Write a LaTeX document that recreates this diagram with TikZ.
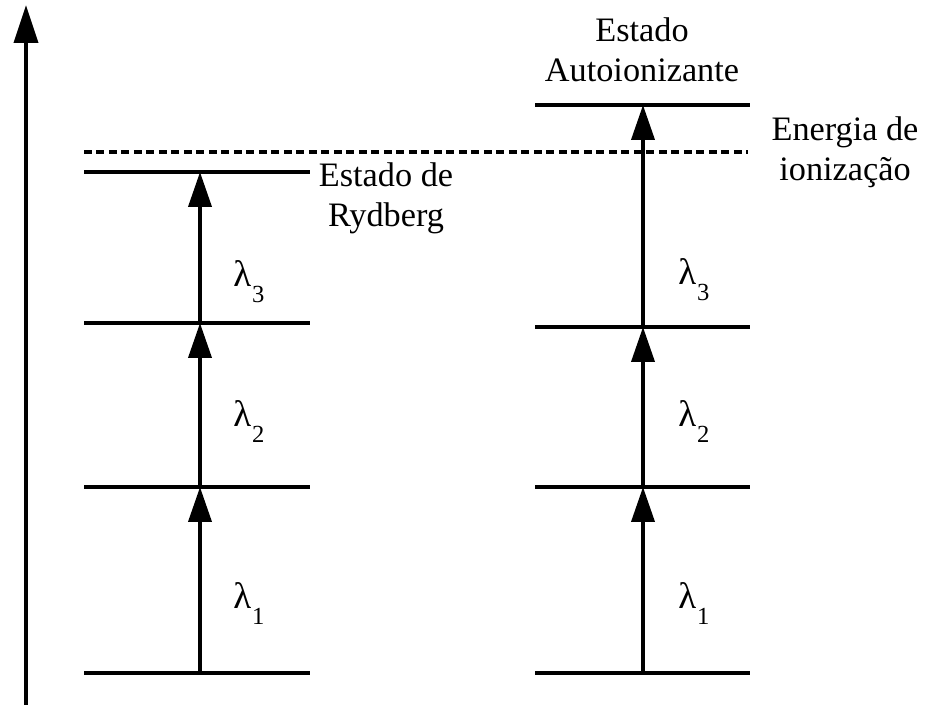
\documentclass[tikz,border=0pt]{standalone}
\usepackage{fontspec}
\setmainfont{Liberation Serif}
\usetikzlibrary{arrows.meta}
\newcommand{\lambdalabel}[1]{{\fontsize{21}{25}\selectfont λ}\kern0.5pt\raisebox{-0.32cm}{\fontsize{14}{16}\selectfont #1}}
\tikzset{
    level/.style={
        line width=2.2pt
    },
    ionlimit/.style={
        line width=2.2pt,
        dash pattern=on 0.16cm off 0.09cm
    },
    transition/.style={
        -{Triangle[length=0.7cm,width=0.46cm]},
        line width=2.2pt
    },
    energyaxis/.style={
        -{Triangle[length=0.76cm,width=0.48cm]},
        line width=2.2pt
    },
    statelabel/.style={
        font=\fontsize{19.5}{22.8}\selectfont,
        align=center,
        inner sep=0pt,
        anchor=base
    },
    wavelength/.style={
        inner sep=0pt,
        anchor=base west
    }
}

\begin{document}
\begin{tikzpicture}[x=0.02cm,y=-0.02cm]
        \useasboundingbox (0,0) rectangle (930,705);
        % energy axis
        \coordinate (axisbot) at (26,705);
        \coordinate (axistop) at (26,5);
        \draw[energyaxis] (axisbot) -- (axistop);

        % ionisation limit
        \coordinate (ionleft) at (84,152);
        \coordinate (ionright) at (748,152);
        \draw[ionlimit] (ionleft) -- (ionright);

        % levels
        \foreach \y [count=\i from 0] in {673,487,323,172} {
            \draw[level] (84,\y) -- (310,\y);
            \coordinate (ryd\i) at (200,\y);
        }
        \foreach \y [count=\i from 0] in {673,487,327,105} {
            \draw[level] (535,\y) -- (750,\y);
            \coordinate (auto\i) at (643,\y);
        }

        % transitions
        \draw[transition] (ryd0) -- (ryd1);
        \draw[transition] (ryd1) -- (ryd2);
        \draw[transition] (ryd2) -- (ryd3);
        \draw[transition] (auto0) -- (auto1);
        \draw[transition] (auto1) -- (auto2);
        \draw[transition] (auto2) -- (auto3);

        \node[wavelength] (rydlam1) at (233,609) {\lambdalabel{1}};
        \node[wavelength] (rydlam2) at (233,427) {\lambdalabel{2}};
        \node[wavelength] (rydlam3) at (233,287) {\lambdalabel{3}};
        \node[wavelength] (autolam1) at (678,609) {\lambdalabel{1}};
        \node[wavelength] (autolam2) at (678,427) {\lambdalabel{2}};
        \node[wavelength] (autolam3) at (678,285) {\lambdalabel{3}};

        % last-line baselines
        \node[statelabel] (rydberg) at (386,227) {Estado de\\Rydberg};
        \node[statelabel] (autoion) at (642,82) {Estado\\Autoionizante};
        \node[statelabel] (ionenergy) at (845,181) {Energia de\\ionização};
\end{tikzpicture}
\end{document}
